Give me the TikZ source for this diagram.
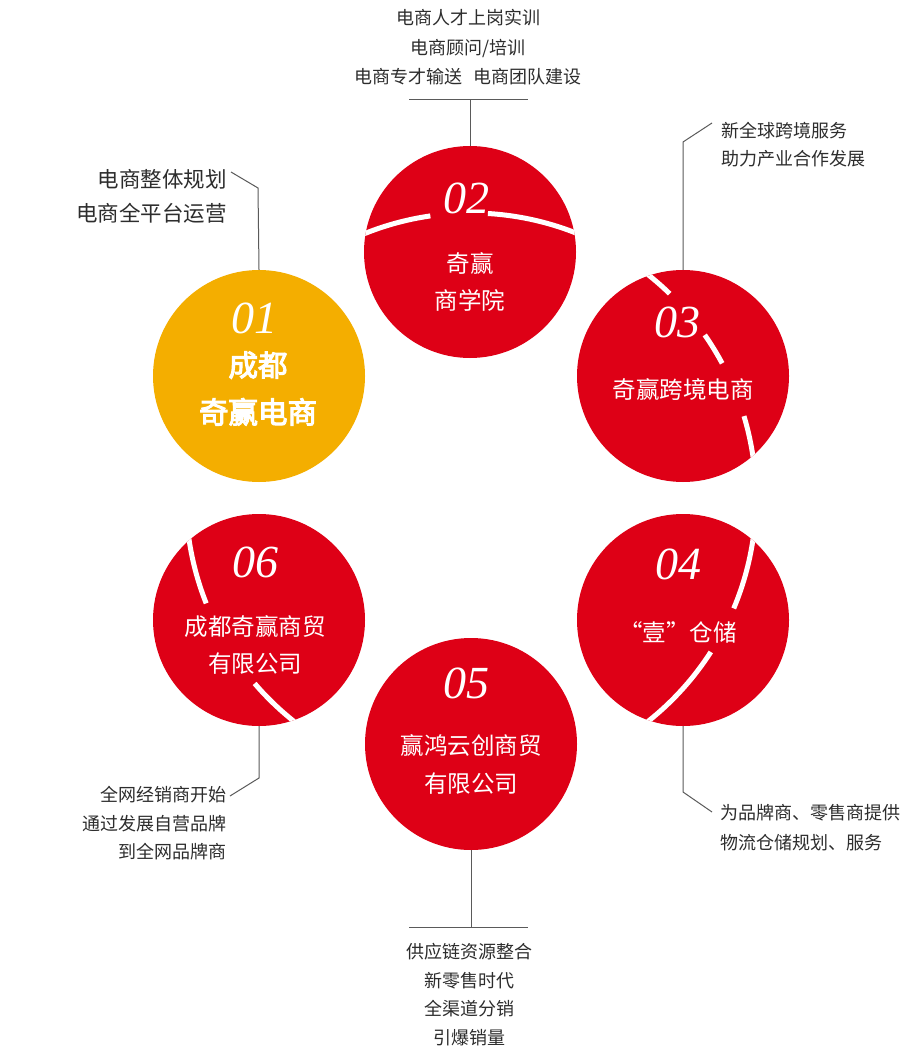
\documentclass[tikz,border=0pt]{standalone}
\usepackage{fontspec}
\newfontfamily\cjk{Noto Sans CJK SC}
\newfontfamily\cjkbold[FakeBold=3.5]{Noto Sans CJK SC}
\newfontfamily\numfont{Liberation Serif}
\definecolor{qred}{RGB}{222,0,22}
\definecolor{qyellow}{RGB}{244,174,0}
\definecolor{txtgray}{RGB}{45,45,45}
\definecolor{linegray}{RGB}{90,90,90}
\tikzset{
  bubble/.style={circle, inner sep=0pt, minimum size=212},
  nums/.style={text=white, inner sep=0pt, font=\numfont\itshape\fontsize{46}{46}\selectfont},
  intext/.style={text=white, align=center, inner sep=0pt, font=\cjk\fontsize{23.5}{37}\selectfont},
  lbl/.style={text=txtgray, inner sep=0pt, font=\cjk\fontsize{18}{28.5}\selectfont},
  conn/.style={draw=linegray, line width=1pt},
  whitearc/.style={draw=white, line width=5pt}
}
\begin{document}
\begin{tikzpicture}[x=1pt,y=-1pt]
\fill[white] (0,0) rectangle (918,1056);
\useasboundingbox (0,0) rectangle (918,1056);

% circles
\node[bubble, fill=qyellow] (c01) at (259,376) {};
\node[bubble, fill=qred] (c02) at (470,252) {};
\node[bubble, fill=qred] (c03) at (683,376) {};
\node[bubble, fill=qred] (c04) at (683,620) {};
\node[bubble, fill=qred] (c05) at (471,744) {};
\node[bubble, fill=qred] (c06) at (259,620) {};

% white arcs (parts of one big ring centred at (471,498), radius 285)
\begin{scope}
  \clip (470,252) circle (106);
  \begin{scope}[shift={(471,498)}, yscale=-1]
    \draw[whitearc] (113:285) arc[start angle=113, end angle=98.2, radius=285];
    \draw[whitearc] (86.6:285) arc[start angle=86.6, end angle=67, radius=285];
  \end{scope}
\end{scope}
\begin{scope}
  \clip (683,376) circle (106);
  \begin{scope}[shift={(471,498)}, yscale=-1]
    \draw[whitearc] (53:285) arc[start angle=53, end angle=45.8, radius=285];
    \draw[whitearc] (34.9:285) arc[start angle=34.9, end angle=28.2, radius=285];
    \draw[whitearc] (16.7:285) arc[start angle=16.7, end angle=7, radius=285];
  \end{scope}
\end{scope}
\begin{scope}
  \clip (683,620) circle (106);
  \begin{scope}[shift={(471,498)}, yscale=-1]
    \draw[whitearc] (-7:285) arc[start angle=-7, end angle=-22.8, radius=285];
    \draw[whitearc] (-32.7:285) arc[start angle=-32.7, end angle=-53, radius=285];
  \end{scope}
\end{scope}
\begin{scope}
  \clip (259,620) circle (106);
  \begin{scope}[shift={(471,498)}, yscale=-1]
    \draw[whitearc] (187:285) arc[start angle=187, end angle=201.7, radius=285];
    \draw[whitearc] (220.6:285) arc[start angle=220.6, end angle=233, radius=285];
  \end{scope}
\end{scope}

% numbers
\node[nums] (n01) at (254,318) {01};
\node[nums] (n02) at (466,198) {02};
\node[nums] (n03) at (677,322) {03};
\node[nums] (n04) at (678,564) {04};
\node[nums] (n05) at (466,683) {05};
\node[nums] (n06) at (255,562) {06};

% inner texts
\node[text=white, align=center, inner sep=0pt, font=\cjkbold\fontsize{29.5}{47}\selectfont] (t01) at (258,388.5) {成都\\奇赢电商};
\node[intext] (t02) at (470,282) {奇赢\\商学院};
\node[intext] (t03) at (683,390) {奇赢跨境电商};
\node[intext] (t04) at (678,632) {“壹”仓储};
\node[intext, font=\cjk\fontsize{23.5}{38}\selectfont] (t05) at (471,764) {赢鸿云创商贸\\有限公司};
\node[intext] (t06) at (255,645) {成都奇赢商贸\\有限公司};

% outside labels
\node[lbl, align=right, anchor=east, font=\cjk\fontsize{21.5}{34}\selectfont] (l01) at (227,196) {电商整体规划\\电商全平台运营};
\node[lbl, align=center, font=\cjk\fontsize{18}{29.5}\selectfont] (l02) at (468,47.5) {电商人才上岗实训\\电商顾问/培训\\电商专才输送\hspace{0.6em}电商团队建设};
\node[lbl, align=left, anchor=west, font=\cjk\fontsize{18}{28}\selectfont] (l03) at (721,145) {新全球跨境服务\\助力产业合作发展};
\node[lbl, align=left, anchor=west, font=\cjk\fontsize{18}{30}\selectfont] (l04) at (720,828) {为品牌商、零售商提供\\物流仓储规划、服务};
\node[lbl, align=center, font=\cjk\fontsize{18}{28.4}\selectfont] (l05) at (469,994.5) {供应链资源整合\\新零售时代\\全渠道分销\\引爆销量};
\node[lbl, align=right, anchor=east] (l06) at (227,823.5) {全网经销商开始\\通过发展自营品牌\\到全网品牌商};

% connector bend points
\coordinate (k01a) at (258,188);
\coordinate (k01b) at (231,172);
\coordinate (k02) at (470,99.5);
\coordinate (h02a) at (409,99.5);
\coordinate (h02b) at (528,99.5);
\coordinate (k03a) at (683,142);
\coordinate (k03b) at (712,123);
\coordinate (k04a) at (683,792);
\coordinate (k04b) at (712,812);
\coordinate (k05) at (471,927.5);
\coordinate (h05a) at (409,927.5);
\coordinate (h05b) at (528,927.5);
\coordinate (k06a) at (259,778);
\coordinate (k06b) at (230,796);

% connectors
\draw[conn] (c01.north) -- (k01a) -- (k01b);
\draw[conn] (c02.north) -- (k02);
\draw[conn] (h02a) -- (h02b);
\draw[conn] (c03.north) -- (k03a) -- (k03b);
\draw[conn] (c04.south) -- (k04a) -- (k04b);
\draw[conn] (c05.south) -- (k05);
\draw[conn] (h05a) -- (h05b);
\draw[conn] (c06.south) -- (k06a) -- (k06b);
\end{tikzpicture}
\end{document}
